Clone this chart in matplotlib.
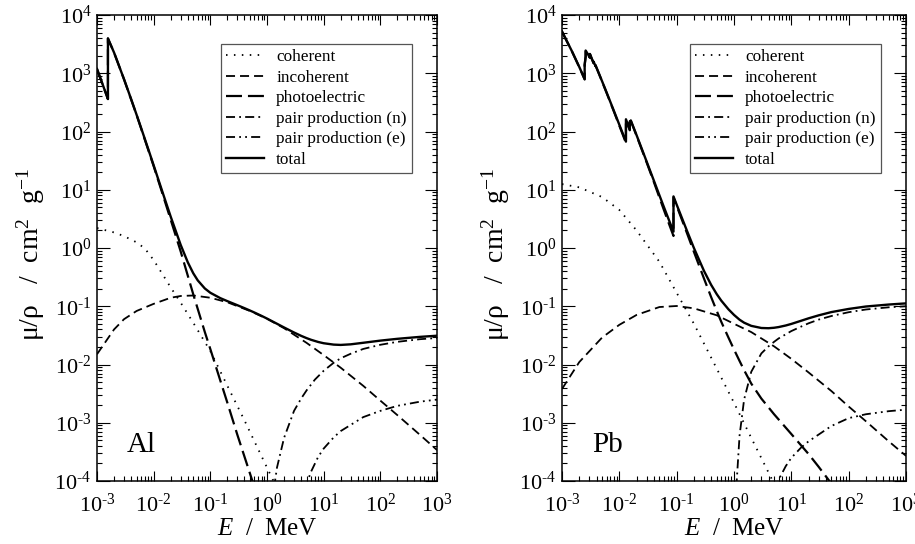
import numpy as np
import matplotlib
matplotlib.use("Agg")
import matplotlib.pyplot as plt
from matplotlib.ticker import LogLocator, NullFormatter, FuncFormatter

plt.rcParams['font.family'] = ['Liberation Serif', 'DejaVu Serif']
plt.rcParams['mathtext.fontset'] = 'custom'
plt.rcParams['mathtext.rm'] = 'Liberation Serif'
plt.rcParams['mathtext.it'] = 'Liberation Serif:italic'
plt.rcParams['mathtext.bf'] = 'Liberation Serif:bold'
plt.rcParams['lines.scale_dashes'] = False

# ---------------- Al data (MeV, cm^2/g) ----------------
al_E_total = [1e-3, 1.5e-3, 1.5596e-3, 1.5596e-3, 2e-3, 3e-3, 4e-3, 5e-3, 6e-3, 8e-3, 1e-2, 1.5e-2,
              2e-2, 3e-2, 4e-2, 5e-2, 6e-2, 8e-2, 0.1, 0.15, 0.2, 0.3, 0.4, 0.5, 0.6, 0.8, 1, 1.5,
              2, 3, 4, 5, 6, 8, 10, 15, 20, 30, 50, 100, 200, 500, 1000]
al_total = [1185, 402, 362, 3957, 2263, 788, 360.5, 193.4, 115.3, 50.33, 26.23, 7.955,
            3.441, 1.128, 0.5685, 0.3681, 0.2778, 0.2018, 0.1704, 0.1378, 0.1223, 0.1042, 0.09276,
            0.08445, 0.07802, 0.06841, 0.06146, 0.05006, 0.04324, 0.03541, 0.03106, 0.02836,
            0.02655, 0.02437, 0.02318, 0.02195, 0.02168, 0.0222, 0.0236, 0.0257, 0.0276, 0.0298, 0.0312]

al_E_photo = [1e-3, 1.5e-3, 1.5596e-3, 1.5596e-3, 2e-3, 3e-3, 5e-3, 1e-2, 1.5e-2, 2e-2, 3e-2,
              5e-2, 8e-2, 0.1, 0.15, 0.2, 0.3, 0.5, 0.8]
al_photo = [1183, 400, 360, 3955, 2261, 786, 192, 25.4, 7.4, 3.05, 0.87,
            0.16, 0.036, 0.0184, 5.3e-3, 2.2e-3, 6.2e-4, 1.35e-4, 3.3e-5]

al_E_coh = [1e-3, 2e-3, 3e-3, 5e-3, 7e-3, 1e-2, 1.5e-2, 2e-2, 3e-2, 5e-2, 0.1, 0.2, 0.4, 0.7, 1.0, 1.5]
al_coh = [2.2, 1.85, 1.6, 1.25, 0.98, 0.62, 0.33, 0.21, 0.115, 0.052, 0.017, 4.3e-3, 1.1e-3,
          3.5e-4, 1.7e-4, 7.5e-5]

al_E_inc = [1e-3, 2e-3, 3e-3, 5e-3, 1e-2, 2e-2, 3e-2, 5e-2, 0.1, 0.2, 0.5, 1, 2, 5, 10, 20, 50,
            100, 200, 500, 1000]
al_inc = [0.015, 0.04, 0.06, 0.083, 0.11, 0.14, 0.15, 0.153, 0.14, 0.117, 0.083, 0.061, 0.042,
          0.0235, 0.0145, 0.0088, 0.0043, 0.0024, 0.00135, 6.2e-4, 3.4e-4]

al_E_pn = [1.1, 1.25, 1.5, 2, 3, 4, 5, 7, 10, 15, 20, 30, 50, 100, 200, 500, 1000]
al_pn = [8e-6, 5e-5, 1.7e-4, 5.5e-4, 1.6e-3, 2.6e-3, 3.6e-3, 5.5e-3, 7.8e-3, 1.07e-2, 1.28e-2,
         1.53e-2, 1.85e-2, 2.18e-2, 2.45e-2, 2.72e-2, 2.85e-2]

al_E_pe = [2.5, 3, 4, 5, 6, 8, 10, 15, 20, 50, 100, 200, 500, 1000]
al_pe = [3e-7, 4e-6, 3.5e-5, 9e-5, 1.45e-4, 2.6e-4, 3.6e-4, 5.6e-4, 7.2e-4, 1.25e-3, 1.6e-3,
         1.95e-3, 2.3e-3, 2.5e-3]

# ---------------- Pb data (MeV, cm^2/g) ----------------
pb_E_total = [1e-3, 1.5e-3, 2e-3, 2.484e-3, 2.484e-3, 2.586e-3, 2.586e-3, 3.066e-3, 3.066e-3,
              3.554e-3, 3.554e-3, 3.851e-3, 3.851e-3, 5e-3, 6e-3, 8e-3, 1e-2, 1.304e-2, 1.304e-2,
              1.52e-2, 1.52e-2, 1.586e-2, 1.586e-2, 2e-2, 3e-2, 4e-2, 5e-2, 6e-2, 8e-2, 8.8e-2,
              8.8e-2, 0.1, 0.15, 0.2, 0.3, 0.4, 0.5, 0.6, 0.8, 1, 1.25, 1.5, 2, 3, 4, 5, 6, 8, 10,
              15, 20, 30, 50, 100, 200, 500, 1000]
pb_total = [5210, 2356, 1285, 794, 1397, 1944, 2458, 1857, 2146, 1496, 1585, 1327, 1368,
            730.4, 467.2, 228.7, 130.6, 67.01, 162.1, 107.8, 148.5, 134.4, 154.8, 86.36, 30.32,
            14.36, 8.041, 5.021, 2.419, 1.91, 7.683, 5.549, 2.014, 0.9985, 0.4031, 0.2323,
            0.1614, 0.1248, 0.0887, 0.07102, 0.05876, 0.05222, 0.04606, 0.04234, 0.04197,
            0.04272, 0.04391, 0.04675, 0.04972, 0.05658, 0.06206, 0.06981, 0.0794, 0.0899,
            0.099, 0.107, 0.112]

pb_E_photo = [1e-3, 1.5e-3, 2e-3, 2.484e-3, 2.484e-3, 2.586e-3, 2.586e-3, 3.066e-3, 3.066e-3,
              3.554e-3, 3.554e-3, 3.851e-3, 3.851e-3, 5e-3, 6e-3, 8e-3, 1e-2, 1.304e-2, 1.304e-2,
              1.52e-2, 1.52e-2, 1.586e-2, 1.586e-2, 2e-2, 3e-2, 4e-2, 5e-2, 6e-2, 8e-2, 8.8e-2,
              8.8e-2, 0.1, 0.15, 0.2, 0.3, 0.4, 0.5, 0.6, 0.8, 1, 1.25, 1.5, 2, 3, 5, 10, 20, 30, 50]
pb_photo = [5197, 2344, 1274, 783, 1386, 1933, 2447, 1847, 2136, 1486, 1575, 1318, 1359,
            722, 460, 223, 126, 63.7, 158.8, 105, 145.7, 131.8, 152.2, 84.3, 29.3,
            13.6, 7.36, 4.47, 2.07, 1.61, 7.38, 5.29, 1.84, 0.857, 0.298, 0.143,
            0.083, 0.054, 0.029, 0.0181, 0.0115, 8e-3, 4.7e-3, 2.6e-3, 1.4e-3, 6.4e-4, 2.9e-4,
            1.75e-4, 9e-5]

pb_E_coh = [1e-3, 2e-3, 5e-3, 1e-2, 2e-2, 5e-2, 0.1, 0.2, 0.5, 1, 2, 5]
pb_coh = [12.5, 11.0, 7.5, 4.5, 2.0, 0.58, 0.17, 0.05, 8.5e-3, 2.2e-3, 5.5e-4, 9e-5]

pb_E_inc = [1e-3, 2e-3, 5e-3, 1e-2, 2e-2, 5e-2, 0.1, 0.2, 0.5, 1, 2, 5, 10, 20, 50, 100, 200,
            500, 1000]
pb_inc = [3.8e-3, 0.011, 0.029, 0.048, 0.071, 0.097, 0.101, 0.092, 0.07, 0.05, 0.036, 0.0205,
          0.0125, 7.3e-3, 3.5e-3, 1.9e-3, 1.06e-3, 4.8e-4, 2.7e-4]

pb_E_pn = [1.05, 1.1, 1.25, 1.5, 2, 3, 4, 5, 6, 8, 10, 15, 20, 30, 50, 100, 200, 500, 1000]
pb_pn = [5e-6, 8e-5, 6e-4, 2.5e-3, 7.5e-3, 0.0155, 0.0205, 0.0245, 0.028, 0.033, 0.0375, 0.045,
         0.051, 0.059, 0.068, 0.079, 0.088, 0.096, 0.1]

pb_E_pe = [3, 4, 5, 6, 8, 10, 15, 20, 50, 100, 200, 500, 1000]
pb_pe = [1e-6, 2e-5, 6e-5, 1.05e-4, 1.8e-4, 2.5e-4, 3.8e-4, 4.8e-4, 8.8e-4, 1.2e-3, 1.4e-3,
         1.58e-3, 1.68e-3]

labels = ["coherent", "incoherent", "photoelectric", "pair production (n)",
          "pair production (e)", "total"]
panel_names = ["Al", "Pb"]

# line styles (in points, not scaled by width)
styles = [
    dict(ls=(0, (1.1, 4.6)), lw=1.3),
    dict(ls=(0, (6.5, 3.6)), lw=1.3),
    dict(ls=(0, (11.5, 4.3)), lw=1.6),
    dict(ls=(0, (6.5, 3.0, 1.3, 3.0)), lw=1.3),
    dict(ls=(0, (6.5, 3.0, 1.3, 3.0, 1.3, 3.0)), lw=1.3),
    dict(ls='-', lw=1.7),
]


def dec_fmt(v, pos):
    e = int(round(np.log10(v)))
    return r"10$^{\text{%d}}$" % e


fig = plt.figure(figsize=(9.15, 5.44), dpi=100)
W, H = 915, 544
ax1 = fig.add_axes([97 / W, 1 - 481 / H, 340 / W, 466 / H])
ax2 = fig.add_axes([562 / W, 1 - 481 / H, 344 / W, 466 / H])

datasets = [
    [(al_E_coh, al_coh), (al_E_inc, al_inc), (al_E_photo, al_photo), (al_E_pn, al_pn),
     (al_E_pe, al_pe), (al_E_total, al_total)],
    [(pb_E_coh, pb_coh), (pb_E_inc, pb_inc), (pb_E_photo, pb_photo), (pb_E_pn, pb_pn),
     (pb_E_pe, pb_pe), (pb_E_total, pb_total)],
]

for ax, data, name in zip([ax1, ax2], datasets, panel_names):
    for (E, v), lab, st in zip(data, labels, styles):
        ax.plot(E, v, color='black', label=lab, linestyle=st['ls'], linewidth=st['lw'])
    ax.set_xscale('log')
    ax.set_yscale('log')
    ax.set_xlim(1e-3, 1e3)
    ax.set_ylim(1e-4, 1e4)
    ax.xaxis.set_major_locator(LogLocator(base=10, numticks=20))
    ax.yaxis.set_major_locator(LogLocator(base=10, numticks=20))
    ax.xaxis.set_minor_locator(LogLocator(base=10, subs=np.arange(2, 10), numticks=20))
    ax.yaxis.set_minor_locator(LogLocator(base=10, subs=np.arange(2, 10), numticks=20))
    ax.xaxis.set_major_formatter(FuncFormatter(dec_fmt))
    ax.yaxis.set_major_formatter(FuncFormatter(dec_fmt))
    ax.xaxis.set_minor_formatter(NullFormatter())
    ax.yaxis.set_minor_formatter(NullFormatter())
    ax.tick_params(which='both', direction='in', top=True, right=True, labelsize=16,
                   width=0.8)
    ax.tick_params(axis='x', which='major', length=7, pad=9)
    ax.tick_params(axis='y', which='major', length=9, pad=4)
    ax.tick_params(which='minor', length=3.6)
    for s in ax.spines.values():
        s.set_linewidth(1.1)
    ax.set_xlabel(r"$E$  /  MeV", fontsize=18, labelpad=1)
    ax.set_ylabel(r"μ/ρ   /  cm$^{2}$  g$^{-1}$", fontsize=20, labelpad=0)
    ax.yaxis.set_label_coords(-50 / ax.bbox.width * (fig.dpi / 100), 0.485)
    ax.text(0.088, 0.062, name, transform=ax.transAxes, fontsize=21, ha='left', va='baseline')
    leg = ax.legend(loc='upper right', bbox_to_anchor=(0.926, 0.938), borderaxespad=0,
                    fontsize=12.4, fancybox=False, framealpha=1, edgecolor='#555555',
                    handlelength=2.2, handletextpad=0.7, labelspacing=0.26, borderpad=0.3)
    leg.get_frame().set_linewidth(0.9)

fig.savefig("out.png", dpi=100)
